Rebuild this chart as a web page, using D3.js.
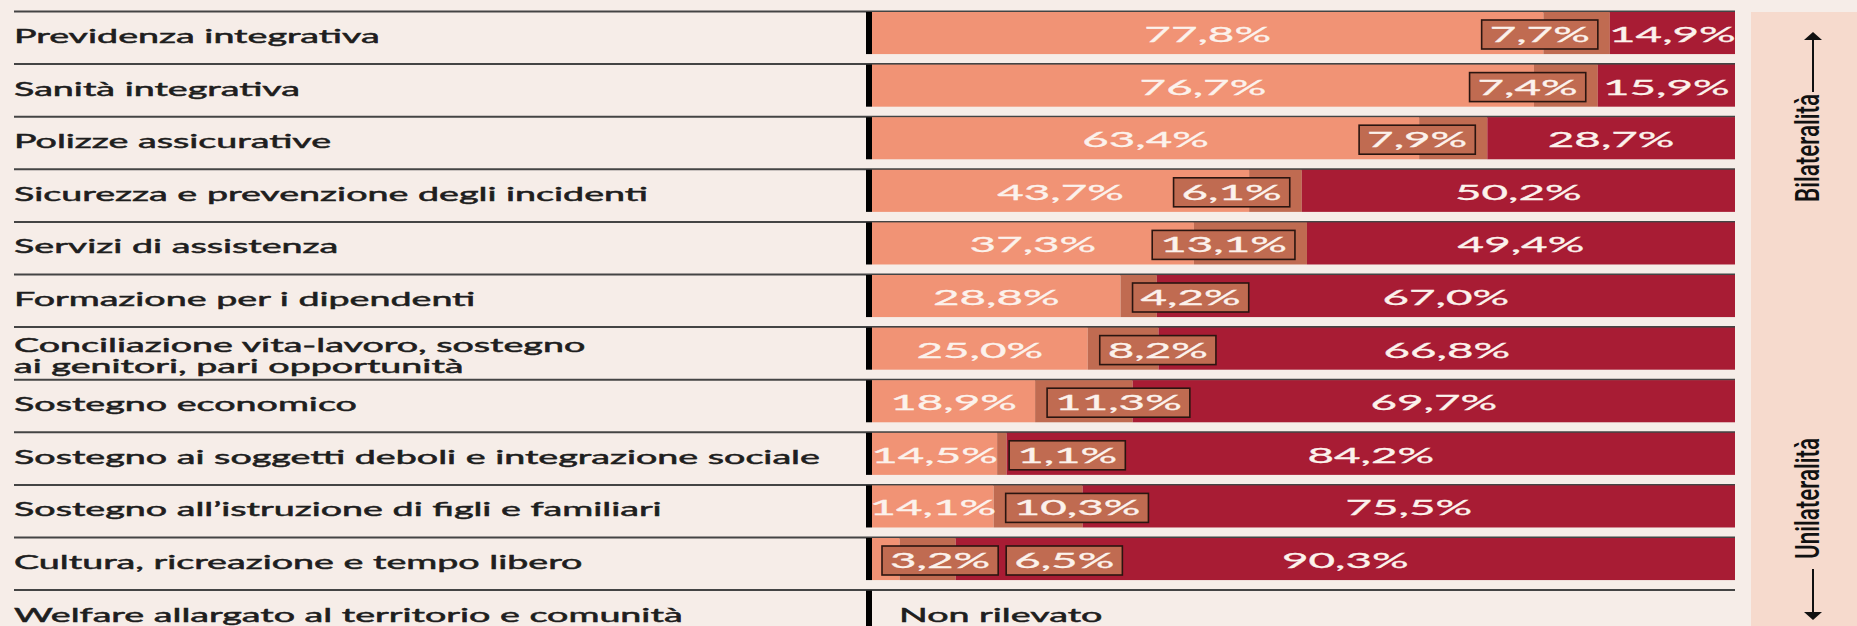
<!DOCTYPE html>
<html><head><meta charset="utf-8">
<script src="https://cdn.jsdelivr.net/npm/d3@7"></script>
<style>html,body{margin:0;padding:0;background:#f6ede8;} svg{display:block}</style>
</head><body><svg id="c" width="1857" height="626"></svg>
<script>
const categories = [
  "Previdenza integrativa",
  "Sanità integrativa",
  "Polizze assicurative",
  "Sicurezza e prevenzione degli incidenti",
  "Servizi di assistenza",
  "Formazione per i dipendenti",
  "Conciliazione vita-lavoro, sostegno\nai genitori, pari opportunità",
  "Sostegno economico",
  "Sostegno ai soggetti deboli e integrazione sociale",
  "Sostegno all’istruzione di figli e familiari",
  "Cultura, ricreazione e tempo libero",
  "Welfare allargato al territorio e comunità"
];
const bilateral  = [77.8, 76.7, 63.4, 43.7, 37.3, 28.8, 25.0, 18.9, 14.5, 14.1, 3.2, null];
const mixed      = [7.7, 7.4, 7.9, 6.1, 13.1, 4.2, 8.2, 11.3, 1.1, 10.3, 6.5, null];
const unilateral = [14.9, 15.9, 28.7, 50.2, 49.4, 67.0, 66.8, 69.7, 84.2, 75.5, 90.3, null];
const missingLabel = "Non rilevato";
const axisLabels = ["Bilateralità", "Unilateralità"];

const W = 1857, H = 626;
const C = {bg:"#f6ede8", panel:"#f6dacd", s1:"#f19375", s2:"#c06b51", s3:"#a81c34",
           box:"#c06b51", boxStroke:"#2a1510", text:"#1e1e1e", white:"#fcf2ec", rule:"#444"};
const SX = 1.93;       // horizontal stretch of text glyphs (as in reference)
const SXP = 2.18;      // stretch for percent labels
const SXR = 1.5;       // stretch for rotated labels
const fmt = v => d3.format(".1f")(v).replace(".", ",") + "%";

const svg = d3.select("#c");
svg.append("rect").attr("width", W).attr("height", H).attr("fill", C.bg);

const x = d3.scaleLinear().domain([0, 100]).range([872, 1735]);
const y = d3.scaleBand().domain(categories).range([12, 12 + 52.6 * 11.8]).paddingInner(0.2).paddingOuter(0).align(0);
const bw = y.bandwidth();

// right panel
svg.append("rect").attr("x", 1751).attr("y", 12).attr("width", W - 1751).attr("height", H - 12).attr("fill", C.panel);

const rows = categories.map((c, i) => ({cat: c, i, b: bilateral[i], m: mixed[i], u: unilateral[i]}));

const g = svg.append("g");

// separators
g.selectAll("line.sep").data(rows).join("line")
  .attr("x1", 14).attr("x2", x(100))
  .attr("y1", d => y(d.cat) - 0.5).attr("y2", d => y(d.cat) - 0.5)
  .attr("stroke", C.rule).attr("stroke-width", 2);

function labelText(parent, tx, ty, str) {
  return parent.append("text").attr("transform", `translate(${tx},${ty}) scale(${SX},1)`)
    .attr("font-family", "Lato, 'Open Sans', sans-serif").attr("font-size", 19.5)
    .attr("fill", C.text).attr("stroke", C.text).attr("stroke-width", 0.5).text(str);
}

// left labels
rows.forEach(d => {
  const lines = d.cat.split("\n");
  const base = y(d.cat);
  lines.forEach((ln, k) => {
    const by = lines.length === 1 ? base + 31 : base + 24 + k * 21;
    labelText(g, 14, by, ln);
  });
});

// segments
const segs = [];
rows.filter(d => d.b != null).forEach(d => {
  segs.push({cat: d.cat, x0: 0, x1: d.b, col: C.s1});
  segs.push({cat: d.cat, x0: d.b, x1: d.b + d.m, col: C.s2});
  segs.push({cat: d.cat, x0: d.b + d.m, x1: 100, col: C.s3});
});
g.selectAll("rect.seg").data(segs).join("rect")
  .attr("x", s => x(s.x0)).attr("width", s => x(s.x1) - x(s.x0))
  .attr("y", s => y(s.cat)).attr("height", bw).attr("fill", s => s.col);

// black start line
rows.forEach(d => {
  const last = d.b == null;
  g.append("rect").attr("x", 866).attr("width", 6)
    .attr("y", y(d.cat)).attr("height", last ? H - y(d.cat) : bw).attr("fill", "#000");
});

// percent labels
function pctText(parent, cx, by, str, anchor) {
  const t = parent.append("text").attr("font-family", "Lato, sans-serif").attr("font-size", 21)
    .attr("fill", C.white).attr("stroke", C.white).attr("stroke-width", 0.3)
    .attr("text-anchor", anchor).text(str);
  t.attr("transform", `translate(${cx},${by}) scale(${SXP},1)`);
  return t.node().getComputedTextLength() * SXP;
}
function boxed(parent, left, top, str) {
  const grp = parent.append("g");
  const r = grp.append("rect");
  const w = pctText(grp, 0, 0, str, "middle");
  const bwid = w + 16;
  grp.select("text").attr("transform", `translate(${left + bwid / 2},${top + 22}) scale(${SXP},1)`);
  r.attr("x", left).attr("y", top).attr("width", bwid).attr("height", 29)
    .attr("fill", C.box).attr("stroke", C.boxStroke).attr("stroke-width", 1.6);
  return left + bwid;
}
function measure(str) {
  const t = svg.append("text").attr("font-family", "Lato, sans-serif").attr("font-size", 21).text(str);
  const w = t.node().getComputedTextLength() * SXP; t.remove(); return w;
}

rows.filter(d => d.b != null).forEach(d => {
  const top = y(d.cat), by = top + 30;
  const s1 = fmt(d.b), s2 = fmt(d.m), s3 = fmt(d.u);
  const w1 = measure(s1), w2 = measure(s2);
  let end1;
  if (x(d.b) - x(0) < 60) {
    end1 = boxed(g, x(0) + 10, top + 8, s1);
  } else {
    const c1 = (x(0) + x(d.b)) / 2;
    pctText(g, c1, by, s1, "middle");
    end1 = c1 + w1 / 2;
  }
  const boxW = w2 + 16;
  let left = x(d.b + d.m) - 12 - boxW;
  if (left < end1 + 10) left = Math.max(x(d.b) + 12, end1 + 8);
  boxed(g, left, top + 8, s2);
  pctText(g, (x(d.b + d.m) + x(100)) / 2, by, s3, "middle");
});

// not surveyed row
rows.filter(d => d.b == null).forEach(d => {
  labelText(g, 899, y(d.cat) + 31, missingLabel);
});

// side labels with arrows
const ax = 1813;
function sideText(tx, ty, str) {
  svg.append("text").attr("transform", `translate(${tx},${ty}) scale(${SXR},1) rotate(-90)`)
    .attr("font-family", "Roboto, Lato, sans-serif").attr("font-size", 22.5).attr("font-weight", 500)
    .attr("fill", "#111").text(str);
}
sideText(1819, 202, axisLabels[0]);
sideText(1819, 559, axisLabels[1]);
svg.append("line").attr("x1", ax).attr("x2", ax).attr("y1", 92).attr("y2", 38).attr("stroke", "#111").attr("stroke-width", 2);
svg.append("path").attr("d", `M${ax - 9},40 L${ax + 9},40 L${ax},32 Z`).attr("fill", "#111");
svg.append("line").attr("x1", ax).attr("x2", ax).attr("y1", 569).attr("y2", 613).attr("stroke", "#111").attr("stroke-width", 2);
svg.append("path").attr("d", `M${ax - 9},612 L${ax + 9},612 L${ax},620 Z`).attr("fill", "#111");
</script></body></html>
